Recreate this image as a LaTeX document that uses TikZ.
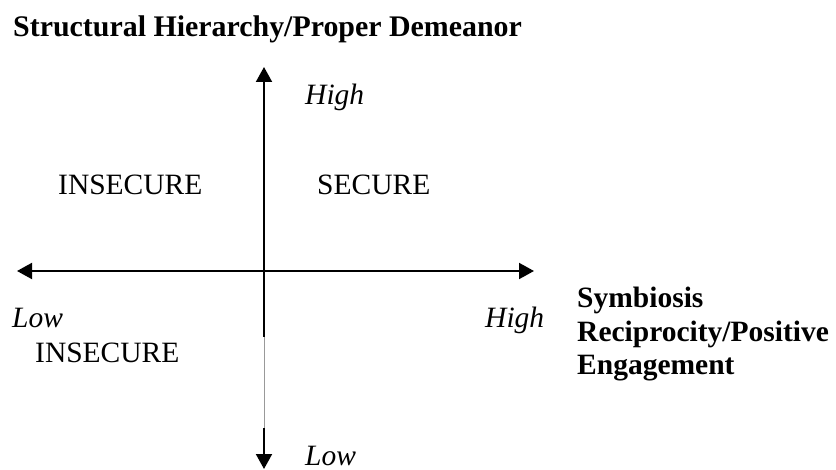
\documentclass[tikz,border=0pt]{standalone}
\usepackage{fontspec}
\setmainfont{Liberation Serif}
\usetikzlibrary{arrows.meta}
\begin{document}
\begin{tikzpicture}[x=1pt,y=-1pt,
  lbl/.style={inner sep=0pt, anchor=base west, font=\fontsize{29.5}{33.5}\selectfont},
  bold/.style={lbl, font=\fontsize{29.5}{33.5}\selectfont\bfseries},
  ital/.style={lbl, font=\fontsize{29.5}{33.5}\selectfont\itshape},
  axis/.style={line width=2pt, -{Triangle[length=15pt,width=16pt]}},
  faint/.style={line width=1pt, gray!80}]
\useasboundingbox (0,0) rectangle (836,470);
% axis coordinates
\coordinate (top) at (264,67);
\coordinate (bot) at (264,469);
\coordinate (left) at (17,271);
\coordinate (right) at (534,271);
\coordinate (brkA) at (264,337);
\coordinate (brkB) at (264,428);
% axes
\draw[axis] (brkA) -- (top);
\draw[faint] (brkA) -- (brkB);
\draw[axis] (brkB) -- (bot);
\draw[line width=2pt, {Triangle[length=15pt,width=16pt]}-{Triangle[length=15pt,width=16pt]}] (left) -- (right);
% labels
\node[bold, font=\fontsize{29.9}{33.5}\selectfont\bfseries] (title) at (13,37) {Structural Hierarchy/Proper Demeanor};
\node[ital] (hightop) at (305,105) {High};
\node[lbl] (insecA) at (58,195) {INSECURE};
\node[lbl] (secure) at (317,195) {SECURE};
\node[ital] (lowleft) at (12,328) {Low};
\node[ital] (highright) at (485,328) {High};
\node[lbl] (insecB) at (35,363) {INSECURE};
\node[bold] (symA) at (577,308) {Symbiosis};
\node[bold] (symB) at (577,341.5) {Reciprocity/Positive};
\node[bold] (symC) at (577,375) {Engagement};
\node[ital] (lowbot) at (305,465) {Low};
\end{tikzpicture}
\end{document}
